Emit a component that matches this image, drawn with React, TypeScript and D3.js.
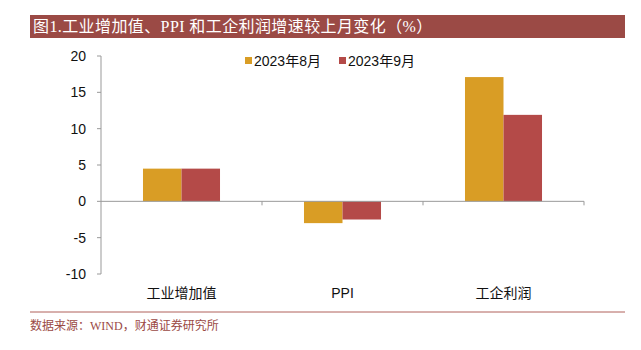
import React from "react";
import * as d3 from "d3";

const categories = ["工业增加值", "PPI", "工企利润"];
const seriesNames = ["2023年8月", "2023年9月"];
const aug = [4.5, -3.0, 17.1];
const sep = [4.5, -2.5, 11.9];
const yTicks = [20, 15, 10, 5, 0, -5, -10];
const colors = ["#D99D25", "#B44A48"];

const W = 641;
const H = 350;
const plot = { left: 101, right: 584, top: 56, bottom: 274 };

export default function App() {
  const y = d3.scaleLinear().domain([-10, 20]).range([plot.bottom, plot.top]);
  const x = d3
    .scaleBand<string>()
    .domain(categories)
    .range([plot.left, plot.right]);
  const inner = d3
    .scaleBand<string>()
    .domain(seriesNames)
    .range([0, x.bandwidth()])
    .paddingInner(0)
    .paddingOuter(1.09);
  const series = [aug, sep];
  const sans = "'Liberation Sans', Arial, 'Noto Sans CJK SC', sans-serif";
  const serif = "'Liberation Serif', 'DejaVu Serif', 'Noto Sans CJK SC', serif";
  const y0 = y(0);
  const tickEdges = categories.map((c) => (x(c) as number) + x.bandwidth());

  return (
    <svg
      width={W}
      height={H}
      style={{ position: "absolute", left: 0, top: 0, background: "#fff" }}
    >
      <rect x={30} y={15} width={595} height={23} fill="#9B4A45" />
      <text x={33} y={32} fill="#fff" fontFamily={serif} fontSize={16} letterSpacing={0.4}>
        图1.工业增加值、PPI 和工企利润增速较上月变化（%）
      </text>

      {/* bars */}
      {categories.map((c, i) =>
        series.map((s, j) => {
          const bx = (x(c) as number) + (inner(seriesNames[j]) as number);
          const v = s[i];
          return (
            <rect
              key={c + j}
              x={bx}
              y={Math.min(y(v), y0)}
              width={inner.bandwidth()}
              height={Math.abs(y(v) - y0)}
              fill={colors[j]}
            />
          );
        })
      )}

      {/* y axis */}
      <line x1={plot.left} x2={plot.left} y1={plot.top} y2={plot.bottom} stroke="#999" />
      {yTicks.map((t) => (
        <g key={t}>
          <line x1={plot.left - 4} x2={plot.left} y1={y(t)} y2={y(t)} stroke="#999" />
          <text
            x={86}
            y={y(t) + 5}
            textAnchor="end"
            fontFamily={sans}
            fontSize={14}
            fill="#111"
          >
            {t}
          </text>
        </g>
      ))}

      {/* x axis at 0 */}
      <line x1={plot.left} x2={plot.right} y1={y0} y2={y0} stroke="#999" />
      {tickEdges.map((tx, i) => (
        <line key={i} x1={tx} x2={tx} y1={y0} y2={y0 + 4} stroke="#999" />
      ))}
      {categories.map((c) => (
        <text
          key={c}
          x={(x(c) as number) + x.bandwidth() / 2}
          y={298}
          textAnchor="middle"
          fontFamily={sans}
          fontSize={14}
          fill="#111"
        >
          {c}
        </text>
      ))}

      {/* legend */}
      {seriesNames.map((n, j) => {
        const lx = 245 + j * 94;
        return (
          <g key={n}>
            <rect x={lx} y={57} width={7} height={7} fill={colors[j]} />
            <text x={lx + 9} y={66} fontFamily={sans} fontSize={14} fill="#111">
              {n}
            </text>
          </g>
        );
      })}

      <line x1={30} x2={625} y1={312} y2={312} stroke="#B0605A" strokeWidth={1} />
      <text x={30} y={330} fill="#9B4A45" fontFamily={serif} fontSize={12}>
        数据来源：WIND，财通证券研究所
      </text>
    </svg>
  );
}
